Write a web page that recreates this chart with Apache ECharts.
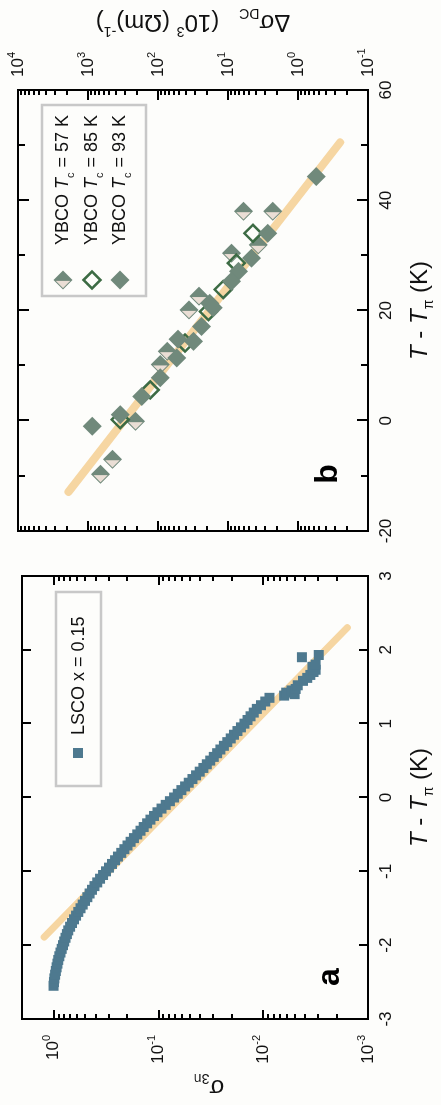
<!DOCTYPE html>
<html><head><meta charset="utf-8">
<script src="https://cdn.jsdelivr.net/npm/echarts@6/dist/echarts.min.js"></script>
<style>
html,body{margin:0;padding:0;background:#fdfdfb;overflow:hidden;width:441px;height:1105px;}
#wrap{position:absolute;left:0;top:0;width:1105px;height:441px;transform-origin:0 0;transform:translate(0px,1105px) rotate(-90deg);}
</style></head><body><div id="wrap"></div>
<script>
// ---------- Panel a : LSCO x = 0.15 ----------
const lscoT = [-2.55,-2.50,-2.45,-2.40,-2.35,-2.30,-2.25,-2.20,-2.15,-2.10,-2.05,-2.00,-1.95,-1.90,-1.85,-1.80,-1.75,-1.70,-1.65,-1.60,-1.55,-1.50,-1.45,-1.40,-1.35,-1.30,-1.25,-1.20,-1.15,-1.10,-1.05,-1.00,-0.95,-0.90,-0.85,-0.80,-0.75,-0.70,-0.65,-0.60,-0.55,-0.50,-0.45,-0.40,-0.35,-0.30,-0.25,-0.20,-0.15,-0.10,-0.05,0.00,0.05,0.10,0.15,0.20,0.25,0.30,0.35,0.40,0.45,0.50,0.55,0.60,0.65,0.70,0.75,0.80,0.85,0.90,0.95,1.00,1.05,1.10,1.15,1.20,1.25,1.30,1.35,1.38,1.42,1.45,1.40,1.47,1.52,1.58,1.62,1.66,1.70,1.73,1.77,1.80,1.90,1.93];
const lscoS = [1.000,0.991,0.982,0.966,0.951,0.935,0.918,0.902,0.881,0.859,0.836,0.813,0.791,0.769,0.746,0.724,0.695,0.667,0.638,0.610,0.581,0.553,0.527,0.501,0.476,0.453,0.430,0.407,0.383,0.360,0.337,0.316,0.296,0.277,0.259,0.243,0.226,0.211,0.197,0.184,0.171,0.159,0.148,0.138,0.128,0.119,0.110,0.102,0.0933,0.0851,0.0776,0.0708,0.0653,0.0603,0.0556,0.0513,0.0473,0.0437,0.0403,0.0372,0.0345,0.0320,0.0296,0.0275,0.0256,0.0237,0.0220,0.0204,0.0190,0.0176,0.0163,0.0151,0.0141,0.0132,0.0123,0.0115,0.0105,0.00955,0.00871,0.00631,0.00603,0.00537,0.00501,0.00490,0.00468,0.00417,0.00380,0.00355,0.00331,0.00316,0.00339,0.00316,0.00427,0.00295];
const fitAT = [-1.89, 2.30];
const fitAS = [1.23, 0.00158];

// ---------- Panel b : YBCO ----------
const y57T = [38.0, 38.0, 31.9, 30.4, 22.6, 20.1, 12.6, 10.2, -0.1, -7.0, -9.7];
const y57S = [6.0, 2.3, 3.7, 8.9, 26, 36, 74, 93, 209, 447, 661];
const y85T = [34.0, 28.6, 23.8, 19.8, 14.1, 5.6, 0.2];
const y85S = [4.4, 7.6, 11.7, 19, 41, 129, 347];
const y93T = [44.3, 34.0, 29.5, 27.1, 25.3, 21.3, 20.5, 17.1, 14.4, 14.8, 11.4, 7.8, 4.4, 1.1, -1.0];
const y93S = [0.55, 2.7, 4.6, 7.1, 8.9, 18.2, 16.2, 24, 31, 52, 54, 93, 170, 347, 871];
const fitBT = [-12.9, 50.5];
const fitBS = [1900, 0.25];

// ---------- tick labels ----------
const logTicksA = [0.001, 0.01, 0.1, 1];
const logTicksB = [0.1, 1, 10, 100, 1000, 10000];
const minorMult = [2, 3, 4, 5, 6, 7, 8, 9];

const legendA = ['LSCO x = 0.15'];
const legendB = ['YBCO {i|T}{sub|c} = 57 K', 'YBCO {i|T}{sub|c} = 85 K', 'YBCO {i|T}{sub|c} = 93 K'];

// ---------- styling ----------
const FONT = '"Liberation Sans", Arial, Helvetica, sans-serif';
const BLACK = '#111111';
const BLUE = '#4e798f';
const FIT = '#f6d6a2';
const GRAY = '#70897b';
const LIGHT = '#eaded5';
const DKGREEN = '#3c6b44';
const FRAME = '#000000';

function zip(a, b) { return a.map((v, i) => [v, b[i]]); }
function minorOf(decades) {
  const out = [];
  decades.forEach(d => minorMult.forEach(m => out.push(+(d * m).toPrecision(6))));
  return out;
}
const minorA = minorOf(logTicksA.slice(0, -1));
const minorB = minorOf(logTicksB.slice(0, -1));

function logLabel(v) { return '10{s|' + Math.round(Math.log10(v)) + '}'; }

const tickLine = { color: FRAME, width: 2 };
const labelRich = { s: { fontSize: 11, verticalAlign: 'top', lineHeight: 12, color: BLACK, fontFamily: FONT } };
const nameRich = {
  i: { fontStyle: 'italic', fontSize: 24, fontFamily: FONT, color: BLACK },
  sub: { fontSize: 14, verticalAlign: 'bottom', lineHeight: 15, fontFamily: FONT, color: BLACK },
  sup: { fontSize: 14, verticalAlign: 'top', lineHeight: 15, fontFamily: FONT, color: BLACK }
};
const nameStyle = { fontSize: 24, fontFamily: FONT, color: BLACK, lineHeight: 32, rich: nameRich };

function tAxis(grid, pos, min, max, interval, tickLen, minor, withLabel, name) {
  const ax = {
    gridIndex: grid, type: 'value', min: min, max: max, interval: interval, position: pos,
    axisLine: { show: false, onZero: false },
    axisTick: { show: true, inside: true, length: tickLen, lineStyle: tickLine },
    minorTick: minor ? { show: true, splitNumber: 2, length: 7, lineStyle: tickLine } : { show: false },
    splitLine: { show: false }, minorSplitLine: { show: false },
    axisLabel: withLabel ? { show: true, fontSize: 17, color: BLACK, fontFamily: FONT, margin: 10 } : { show: false }
  };
  if (name) { ax.name = name; ax.nameLocation = 'middle'; ax.nameGap = 36; ax.nameTextStyle = nameStyle; ax.nameMoveOverlap = false; }
  return ax;
}
function logAxis(grid, pos, min, max, ticks, len, withLabel, name, margin, gap, namePad) {
  const ax = {
    gridIndex: grid, type: 'log', logBase: 10, min: min, max: max, position: pos,
    axisLine: { show: false, onZero: false },
    axisTick: { show: true, inside: true, length: len, customValues: ticks, lineStyle: tickLine },
    minorTick: { show: false }, splitLine: { show: false },
    axisLabel: withLabel ? { show: true, customValues: ticks, formatter: logLabel, fontSize: 17, lineHeight: 24, color: BLACK, fontFamily: FONT, margin: margin, rich: labelRich } : { show: false }
  };
  if (name) {
    ax.name = name; ax.nameLocation = 'middle'; ax.nameGap = gap; ax.nameMoveOverlap = false;
    ax.nameTextStyle = Object.assign({}, nameStyle, namePad ? { padding: namePad } : {});
  }
  return ax;
}

const T_NAME = '{i|T} - {i|T}{sub|π} (K)';

const option = {
  backgroundColor: '#fdfdfb',
  animation: false,
  grid: [
    { left: 86, top: 22, width: 443, height: 346, show: true, borderColor: FRAME, borderWidth: 2, backgroundColor: 'transparent', containLabel: false, outerBoundsMode: 'none' },
    { left: 574, top: 18, width: 441, height: 350, show: true, borderColor: FRAME, borderWidth: 2, backgroundColor: 'transparent', containLabel: false, outerBoundsMode: 'none' }
  ],
  xAxis: [
    tAxis(0, 'bottom', -3, 3, 1, 9, false, true, T_NAME),
    tAxis(0, 'top', -3, 3, 1, 9, false, false, null),
    tAxis(1, 'bottom', -20, 60, 20, 11, true, true, T_NAME),
    tAxis(1, 'top', -20, 60, 20, 11, true, false, null)
  ],
  yAxis: [
    logAxis(0, 'left', 0.001, 2, logTicksA, 9, true, 'σ{sub|3n}', 16, 52, [0, 28, 0, 0]),
    logAxis(0, 'left', 0.001, 2, minorA, 5, false),
    logAxis(0, 'right', 0.001, 2, logTicksA, 9, false),
    logAxis(0, 'right', 0.001, 2, minorA, 5, false),
    logAxis(1, 'right', 0.1, 10000, logTicksB, 10, true, 'Δσ{sub|DC}   (10{sup|3} (Ωm){sup|-1})', 13, 52),
    logAxis(1, 'right', 0.1, 10000, minorB, 5, false),
    logAxis(1, 'left', 0.1, 10000, logTicksB, 10, false),
    logAxis(1, 'left', 0.1, 10000, minorB, 5, false)
  ],
  series: [
    { type: 'line', xAxisIndex: 0, yAxisIndex: 0, data: zip(fitAT, fitAS), symbol: 'none', silent: true,
      lineStyle: { color: FIT, width: 7, cap: 'round' }, z: 2 },
    { type: 'scatter', name: legendA[0], xAxisIndex: 0, yAxisIndex: 0, data: zip(lscoT, lscoS), symbol: 'rect', symbolSize: 10,
      itemStyle: { color: BLUE, opacity: 1 }, z: 3, silent: true },
    { type: 'line', xAxisIndex: 2, yAxisIndex: 4, data: zip(fitBT, fitBS), symbol: 'none', silent: true,
      lineStyle: { color: FIT, width: 8, cap: 'round' }, z: 2 },
    { type: 'scatter', name: 'YBCO 57 K', xAxisIndex: 2, yAxisIndex: 4, data: zip(y57T, y57S), symbol: 'diamond', symbolSize: 19,
      itemStyle: { color: GRAY, opacity: 1 }, z: 3, silent: true },
    { type: 'scatter', name: 'YBCO 57 K half', xAxisIndex: 2, yAxisIndex: 4, data: zip(y57T, y57S), symbol: 'path://M0,1L1,0L1,2Z',
      symbolSize: [7.2, 14.4], symbolOffset: [-4.5, 0], itemStyle: { color: LIGHT, opacity: 1 }, z: 3, silent: true },
    { type: 'scatter', name: 'YBCO 85 K', xAxisIndex: 2, yAxisIndex: 4, data: zip(y85T, y85S), symbol: 'diamond', symbolSize: 17,
      itemStyle: { color: 'rgba(0,0,0,0)', borderColor: DKGREEN, borderWidth: 2.5, opacity: 1 }, z: 3, silent: true },
    { type: 'scatter', name: 'YBCO 93 K', xAxisIndex: 2, yAxisIndex: 4, data: zip(y93T, y93S), symbol: 'diamond', symbolSize: 19,
      itemStyle: { color: GRAY, opacity: 1 }, z: 3, silent: true }
  ],
  graphic: [
    { type: 'text', x: 128, y: 330, z: 10, style: { text: 'a', fontSize: 32, fontWeight: 'bold', fontFamily: FONT, fill: '#000', align: 'center', verticalAlign: 'middle', textAlign: 'center', textVerticalAlign: 'middle' } },
    { type: 'text', x: 631, y: 328, z: 10, style: { text: 'b', fontSize: 32, fontWeight: 'bold', fontFamily: FONT, fill: '#000', align: 'center', verticalAlign: 'middle', textAlign: 'center', textVerticalAlign: 'middle' } },
    { type: 'rect', z: 10, shape: { x: 319, y: 56, width: 194, height: 45 }, style: { fill: 'none', stroke: '#c8c8c8', lineWidth: 2.5 } },
    { type: 'rect', z: 10, shape: { x: 347, y: 73, width: 10, height: 10 }, style: { fill: BLUE } },
    { type: 'text', z: 10, x: 370, y: 79, style: { text: legendA[0], fontSize: 18, fontFamily: FONT, fill: BLACK, verticalAlign: 'middle', textVerticalAlign: 'middle' } },
    { type: 'rect', z: 10, shape: { x: 809, y: 42, width: 191, height: 104 }, style: { fill: 'none', stroke: '#c8c8c8', lineWidth: 2.5 } },
    { type: 'polygon', z: 10, shape: { points: [[825, 53.5], [834.5, 63], [825, 72.5], [815.5, 63]] }, style: { fill: GRAY } },
    { type: 'polygon', z: 11, shape: { points: [[816.9, 63], [824.1, 55.8], [824.1, 70.2]] }, style: { fill: LIGHT } },
    { type: 'polygon', z: 10, shape: { points: [[825, 83.5], [833.5, 92], [825, 100.5], [816.5, 92]] }, style: { fill: 'none', stroke: DKGREEN, lineWidth: 2.5 } },
    { type: 'polygon', z: 10, shape: { points: [[825, 110.5], [834.5, 120], [825, 129.5], [815.5, 120]] }, style: { fill: GRAY } },
    { type: 'text', z: 10, x: 860, y: 63, style: { text: legendB[0], fontSize: 18, fontFamily: FONT, fill: BLACK, lineHeight: 26, verticalAlign: 'middle', textVerticalAlign: 'middle', rich: { i: { fontStyle: 'italic', fontSize: 18, fontFamily: FONT, fill: BLACK }, sub: { fontSize: 11, fontFamily: FONT, fill: BLACK, verticalAlign: 'bottom', lineHeight: 11 } } } },
    { type: 'text', z: 10, x: 860, y: 92, style: { text: legendB[1], fontSize: 18, fontFamily: FONT, fill: BLACK, lineHeight: 26, verticalAlign: 'middle', textVerticalAlign: 'middle', rich: { i: { fontStyle: 'italic', fontSize: 18, fontFamily: FONT, fill: BLACK }, sub: { fontSize: 11, fontFamily: FONT, fill: BLACK, verticalAlign: 'bottom', lineHeight: 11 } } } },
    { type: 'text', z: 10, x: 860, y: 120, style: { text: legendB[2], fontSize: 18, fontFamily: FONT, fill: BLACK, lineHeight: 26, verticalAlign: 'middle', textVerticalAlign: 'middle', rich: { i: { fontStyle: 'italic', fontSize: 18, fontFamily: FONT, fill: BLACK }, sub: { fontSize: 11, fontFamily: FONT, fill: BLACK, verticalAlign: 'bottom', lineHeight: 11 } } } }
  ]
};

const chart = echarts.init(document.getElementById('wrap'), null, { renderer: 'canvas', width: 1105, height: 441 });
chart.setOption(option);
</script></body></html>
